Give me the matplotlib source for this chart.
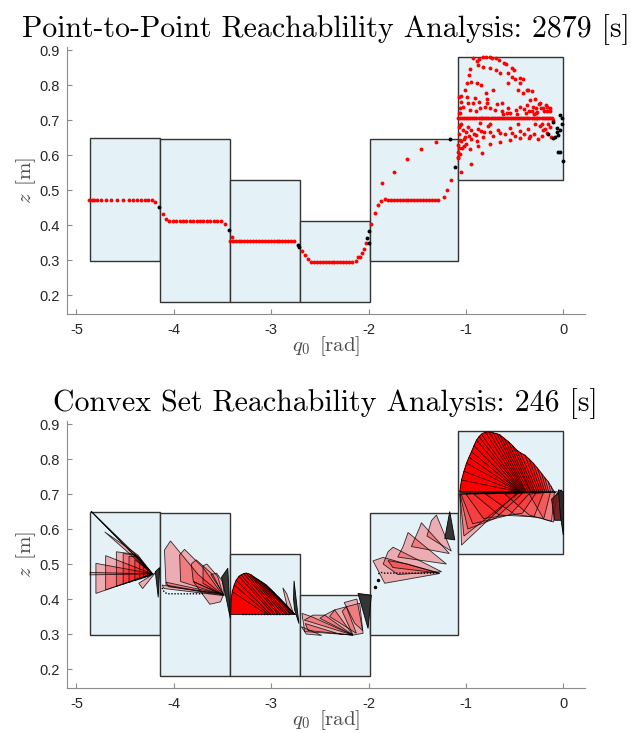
import matplotlib
matplotlib.use("Agg")
import matplotlib.pyplot as plt
from matplotlib.patches import Rectangle, Polygon

plt.rcParams['mathtext.fontset'] = 'cm'
plt.rcParams['axes.unicode_minus'] = False

# ---------------- data ----------------
titles = ["Point-to-Point Reachablility Analysis: 2879 [s]",
          "Convex Set Reachability Analysis: 246 [s]"]
xticks = [-5, -4, -3, -2, -1, 0]
yticks = [0.2, 0.3, 0.4, 0.5, 0.6, 0.7, 0.8, 0.9]

box_left = [-4.86, -4.14, -3.42, -2.70, -1.98, -1.08]
box_right = [-4.14, -3.42, -2.70, -1.98, -1.08, 0.0]
box_bottom = [0.298, 0.180, 0.180, 0.180, 0.298, 0.530]
box_top = [0.648, 0.645, 0.530, 0.412, 0.646, 0.880]

# point-to-point: reachable (red) samples
red_x_1 = [-4.867, -4.844, -4.819, -4.785, -4.751, -4.700, -4.644, -4.579, -4.518, -4.463,
           -4.415, -4.374, -4.336, -4.299, -4.264, -4.227, -4.192, -4.114, -4.079]
red_z_1 = [0.471, 0.471, 0.471, 0.471, 0.471, 0.471, 0.471, 0.471, 0.471, 0.471,
           0.471, 0.471, 0.471, 0.471, 0.471, 0.471, 0.467, 0.431, 0.417]
red_x_2 = [-4.045, -4.010, -3.975, -3.940, -3.905, -3.870, -3.835, -3.800, -3.765, -3.730,
           -3.695, -3.660, -3.625, -3.590, -3.555, -3.520, -3.472, -3.400]
red_z_2 = [0.413, 0.413, 0.413, 0.413, 0.413, 0.413, 0.413, 0.413, 0.413, 0.413,
           0.413, 0.413, 0.413, 0.413, 0.413, 0.413, 0.402, 0.365]
red_x_3 = [-3.425, -3.395, -3.365, -3.335, -3.305, -3.275, -3.245, -3.215, -3.185, -3.155,
           -3.125, -3.095, -3.065, -3.035, -3.005, -2.975, -2.945, -2.915, -2.885, -2.855,
           -2.825, -2.795, -2.765, -2.680, -2.656, -2.622]
red_z_3 = [0.355, 0.355, 0.355, 0.355, 0.355, 0.355, 0.355, 0.355, 0.355, 0.355,
           0.355, 0.355, 0.355, 0.355, 0.355, 0.355, 0.355, 0.355, 0.355, 0.355,
           0.355, 0.355, 0.354, 0.327, 0.314, 0.302]
red_x_4 = [-2.587, -2.560, -2.530, -2.500, -2.470, -2.440, -2.410, -2.380, -2.350, -2.320,
           -2.290, -2.260, -2.230, -2.200, -2.170, -2.132, -2.108, -2.084, -2.063, -2.050,
           -2.029]
red_z_4 = [0.295, 0.295, 0.295, 0.295, 0.295, 0.295, 0.295, 0.295, 0.295, 0.295,
           0.295, 0.295, 0.295, 0.295, 0.295, 0.298, 0.308, 0.309, 0.321, 0.333,
           0.348]
red_x_5 = [-1.978, -1.937, -1.902, -1.868, -1.831, -1.800, -1.770, -1.740, -1.710, -1.680,
           -1.650, -1.620, -1.590, -1.560, -1.530, -1.500, -1.470, -1.440, -1.410, -1.380,
           -1.350, -1.320, -1.290, -1.227, -1.189, -1.152, -1.080, -1.080, -1.080]
red_z_5 = [0.403, 0.435, 0.456, 0.469, 0.474, 0.473, 0.473, 0.473, 0.473, 0.473,
           0.473, 0.473, 0.473, 0.473, 0.473, 0.473, 0.473, 0.473, 0.473, 0.473,
           0.473, 0.473, 0.473, 0.481, 0.500, 0.529, 0.595, 0.609, 0.629]
red_arc_x = [-1.861, -1.738, -1.600, -1.456, -1.309]
red_arc_z = [0.521, 0.551, 0.589, 0.618, 0.637]
red_line_x = [-1.08, -1.06, -1.04, -1.02, -1.00, -0.98, -0.955, -0.935, -0.915, -0.895,
              -0.87, -0.85, -0.83, -0.81, -0.79, -0.77, -0.745, -0.725, -0.705, -0.685,
              -0.665, -0.64, -0.62, -0.60, -0.58, -0.56, -0.535, -0.515, -0.495, -0.475,
              -0.455, -0.43, -0.41, -0.39, -0.37, -0.35, -0.325, -0.305, -0.285, -0.265,
              -0.245, -0.22, -0.20, -0.18, -0.16, -0.14, -0.12]
red_line_z = [0.706, 0.706, 0.706, 0.706, 0.706, 0.706, 0.706, 0.706, 0.706, 0.706,
              0.706, 0.706, 0.706, 0.706, 0.706, 0.706, 0.706, 0.706, 0.706, 0.706,
              0.706, 0.706, 0.706, 0.706, 0.706, 0.706, 0.706, 0.706, 0.706, 0.706,
              0.706, 0.706, 0.706, 0.706, 0.706, 0.706, 0.706, 0.706, 0.706, 0.706,
              0.706, 0.706, 0.706, 0.706, 0.706, 0.706, 0.706]
red_cloud_x = [-0.926, -0.891, -0.864, -0.823, -0.795, -0.754, -0.727, -0.686, -0.658, -0.610,
               -0.590, -0.531, -0.507, -0.446, -0.418, -0.360, -0.326, -0.240, -0.178, -0.137,
               -0.967, -0.953, -0.874, -0.823, -0.754, -0.693, -0.651, -0.566, -0.531, -0.497,
               -0.446, -0.377, -1.011, -0.987, -0.943, -0.891, -0.840, -0.795, -0.720, -0.566,
               -0.463, -0.411, -0.343, -0.291, -1.046, -1.029, -0.977, -0.926, -0.864, -0.857,
               -0.806, -0.754, -0.703, -0.634, -0.634, -0.566, -0.542, -0.487, -0.446, -0.405,
               -0.370, -0.350, -0.315, -0.281, -0.267, -0.233, -0.199, -0.164, -0.137, -1.063,
               -1.029, -0.977, -0.943, -0.898, -0.857, -0.840, -0.771, -0.754, -0.669, -0.651,
               -0.549, -0.531, -0.446, -0.360, -0.343, -0.240, -0.206, -0.171, -0.130, -1.063,
               -1.011, -0.994, -0.943, -0.891, -0.874, -0.823, -0.754, -0.651, -0.549, -0.446,
               -0.350, -1.073, -1.063, -1.022, -0.960, -0.833, -0.943, -1.046, -1.080, -1.066,
               -1.060, -1.070, -1.050, -0.985, -0.905, -0.780, -0.620, -0.475, -0.300, -0.215,
               -1.075, -1.070, -1.055, -1.040, -1.020, -1.000, -0.965, -0.920, -0.880, -0.810,
               -0.720, -0.600, -0.500, -0.400, -0.300, -0.260, -0.220, -0.190, -0.160, -0.140,
               -0.280, -0.250, -0.210, -0.170, -0.320, -0.380, -0.580, -0.680, -0.780, -0.900,
               -0.960, -1.060, -1.050, -0.750, -0.470, -0.290, -0.110]
red_cloud_z = [0.876, 0.870, 0.873, 0.879, 0.880, 0.880, 0.876, 0.876, 0.871, 0.864,
               0.860, 0.848, 0.843, 0.819, 0.816, 0.786, 0.784, 0.748, 0.742, 0.733,
               0.829, 0.845, 0.857, 0.852, 0.848, 0.843, 0.833, 0.833, 0.824, 0.816,
               0.805, 0.786, 0.786, 0.805, 0.810, 0.805, 0.800, 0.778, 0.786, 0.805,
               0.786, 0.776, 0.757, 0.759, 0.752, 0.738, 0.748, 0.748, 0.752, 0.733,
               0.738, 0.733, 0.729, 0.748, 0.727, 0.733, 0.721, 0.729, 0.738, 0.731,
               0.743, 0.727, 0.738, 0.735, 0.724, 0.733, 0.727, 0.738, 0.727, 0.686,
               0.672, 0.679, 0.672, 0.657, 0.691, 0.670, 0.683, 0.667, 0.673, 0.664,
               0.676, 0.664, 0.670, 0.674, 0.654, 0.683, 0.673, 0.664, 0.653, 0.643,
               0.653, 0.632, 0.647, 0.641, 0.626, 0.651, 0.633, 0.638, 0.643, 0.648,
               0.650, 0.619, 0.603, 0.626, 0.616, 0.605, 0.574, 0.553, 0.593, 0.720,
               0.735, 0.765, 0.770, 0.765, 0.762, 0.760, 0.718, 0.718, 0.716, 0.690,
               0.660, 0.680, 0.640, 0.620, 0.645, 0.665, 0.655, 0.660, 0.675, 0.665,
               0.655, 0.660, 0.655, 0.660, 0.660, 0.645, 0.655, 0.675, 0.690, 0.680,
               0.720, 0.745, 0.735, 0.725, 0.725, 0.720, 0.720, 0.745, 0.750, 0.725,
               0.730, 0.720, 0.690, 0.690, 0.690, 0.690, 0.700]
# point-to-point: boundary (black) samples
black_x = [-4.155, -3.438, -2.725, -2.715, -1.998, -2.012, -1.998, -1.114, -1.165,
           -0.034, -0.017, -0.103, -0.069, -0.030, -0.086, -0.051, -0.103, -0.154,
           -0.051, -0.034, -0.007, -0.010, -0.060]
black_z = [0.452, 0.385, 0.343, 0.338, 0.348, 0.364, 0.384, 0.565, 0.646,
           0.714, 0.705, 0.695, 0.676, 0.673, 0.652, 0.657, 0.648, 0.659,
           0.610, 0.610, 0.584, 0.690, 0.665]

# convex set: individual pink polygons (vertex lists in data coordinates)
cs_pink = [
    # box 1
    [(-4.85, 0.651), (-4.42, 0.535), (-4.22, 0.472)],
    [(-4.85, 0.651), (-4.58, 0.575), (-4.22, 0.472)],
    [(-4.71, 0.592), (-4.37, 0.526), (-4.22, 0.472)],
    [(-4.80, 0.502), (-4.80, 0.416), (-4.22, 0.472)],
    [(-4.70, 0.524), (-4.70, 0.426), (-4.22, 0.472)],
    [(-4.59, 0.535), (-4.40, 0.528), (-4.22, 0.472), (-4.59, 0.436)],
    [(-4.52, 0.530), (-4.38, 0.525), (-4.22, 0.472), (-4.52, 0.442)],
    [(-4.46, 0.522), (-4.36, 0.520), (-4.22, 0.472), (-4.46, 0.447)],
    [(-4.40, 0.513), (-4.22, 0.472), (-4.40, 0.452)],
    [(-4.35, 0.505), (-4.22, 0.472), (-4.35, 0.456)],
    [(-4.31, 0.497), (-4.22, 0.472), (-4.31, 0.460)],
    [(-4.27, 0.490), (-4.22, 0.472), (-4.27, 0.463)],
    [(-4.36, 0.445), (-4.19, 0.475), (-4.32, 0.430)],
    [(-4.86, 0.476), (-4.22, 0.472), (-4.86, 0.469)],
    # box 2
    [(-4.096, 0.540), (-4.034, 0.566), (-3.75, 0.470), (-3.50, 0.412), (-4.08, 0.440)],
    [(-3.94, 0.526), (-3.89, 0.542), (-3.70, 0.490), (-3.50, 0.412), (-3.93, 0.450)],
    [(-3.82, 0.500), (-3.77, 0.512), (-3.60, 0.470), (-3.49, 0.410), (-3.80, 0.450)],
    [(-3.70, 0.495), (-3.66, 0.500), (-3.55, 0.465), (-3.49, 0.410), (-3.70, 0.445)],
    [(-3.62, 0.470), (-3.56, 0.474), (-3.50, 0.450), (-3.48, 0.410)],
    [(-3.80, 0.450), (-3.49, 0.412), (-3.52, 0.392), (-3.63, 0.385)],
    [(-4.12, 0.440), (-3.50, 0.410), (-4.10, 0.430)],
    [(-4.08, 0.448), (-3.52, 0.415), (-4.05, 0.435)],
    # box 3 extras
    [(-2.88, 0.432), (-2.84, 0.415), (-2.77, 0.358), (-2.82, 0.360)],
    # box 4
    [(-2.684, 0.359), (-2.588, 0.350), (-2.16, 0.297), (-2.656, 0.307)],
    [(-2.66, 0.340), (-2.571, 0.354), (-2.45, 0.354), (-2.16, 0.297)],
    [(-2.50, 0.345), (-2.45, 0.354), (-2.348, 0.369), (-2.16, 0.297)],
    [(-2.40, 0.350), (-2.348, 0.369), (-2.228, 0.378), (-2.125, 0.302)],
    [(-2.27, 0.365), (-2.228, 0.378), (-2.091, 0.388), (-2.056, 0.302), (-2.16, 0.297)],
    [(-2.25, 0.390), (-2.12, 0.400), (-2.06, 0.310), (-2.14, 0.330)],
    [(-2.69, 0.321), (-2.64, 0.300), (-2.48, 0.296)],
    [(-2.65, 0.330), (-2.30, 0.300), (-2.16, 0.297), (-2.62, 0.310)],
    # box 5
    [(-1.954, 0.509), (-1.851, 0.519), (-1.268, 0.473), (-1.834, 0.445)],
    [(-1.85, 0.500), (-1.80, 0.535), (-1.748, 0.548), (-1.25, 0.478), (-1.70, 0.470)],
    [(-1.70, 0.520), (-1.645, 0.550), (-1.594, 0.590), (-1.20, 0.500)],
    [(-1.56, 0.550), (-1.474, 0.605), (-1.457, 0.618), (-1.17, 0.530)],
    [(-1.40, 0.580), (-1.354, 0.624), (-1.303, 0.640), (-1.15, 0.537)],
    [(-1.80, 0.510), (-1.60, 0.500), (-1.27, 0.474), (-1.75, 0.490)],
    # box 6 lower wedges
    [(-1.063, 0.707), (-1.045, 0.554), (-0.46, 0.707)],
    [(-1.063, 0.700), (-1.02, 0.580), (-0.44, 0.707)],
    [(-1.06, 0.700), (-0.98, 0.600), (-0.70, 0.630), (-0.40, 0.707)],
    [(-1.05, 0.700), (-0.93, 0.615), (-0.55, 0.640), (-0.33, 0.707)],
    [(-1.00, 0.700), (-0.82, 0.630), (-0.42, 0.645), (-0.27, 0.707)],
    [(-0.92, 0.700), (-0.66, 0.640), (-0.30, 0.635), (-0.20, 0.707)],
    [(-0.80, 0.700), (-0.50, 0.642), (-0.20, 0.630), (-0.13, 0.707)],
    [(-0.60, 0.700), (-0.35, 0.640), (-0.12, 0.622), (-0.09, 0.707)],
    [(-0.35, 0.700), (-0.20, 0.628), (-0.10, 0.620), (-0.06, 0.707)],
]
cs_dark = [
    [(-4.19, 0.478), (-4.145, 0.490), (-4.16, 0.405)],
    [(-3.51, 0.462), (-3.445, 0.488), (-3.42, 0.345), (-3.46, 0.400)],
    [(-2.765, 0.452), (-2.715, 0.330), (-2.76, 0.370), (-2.77, 0.400)],
    [(-2.108, 0.416), (-1.971, 0.411), (-2.005, 0.316)],
    [(-1.217, 0.573), (-1.166, 0.650), (-1.114, 0.569)],
    [(-0.05, 0.712), (0.0, 0.707), (0.0, 0.583), (-0.03, 0.640)],
]
cs_maroon = [
    [(-0.12, 0.685), (-0.02, 0.712), (-0.02, 0.625), (-0.09, 0.625)],
]
# box 3 fan (arc of the set boundary, and where each wedge closes on the base line)
fan3_base = (-3.415, 0.357)
fan3_arc_x = [-3.41, -3.40, -3.38, -3.359, -3.33, -3.308, -3.28, -3.256, -3.23, -3.205, -3.18,
              -3.153, -3.13, -3.102, -3.075, -3.05, -3.025, -2.999, -2.97, -2.948, -2.92, -2.896]
fan3_arc_z = [0.400, 0.421, 0.440, 0.454, 0.465, 0.469, 0.473, 0.474, 0.472, 0.469, 0.464,
              0.459, 0.455, 0.450, 0.445, 0.440, 0.433, 0.426, 0.418, 0.411, 0.404, 0.397]
fan3_close_x = [-3.06, -3.05, -3.03, -3.01, -2.98, -2.96, -2.93, -2.91, -2.88, -2.855, -2.83,
                -2.80, -2.78, -2.77, -2.765, -2.76, -2.76, -2.76, -2.76, -2.76, -2.76, -2.76]
fan3_close_z = 0.357
# box 6 fan
fan6_base = (-1.063, 0.707)
fan6_arc_x = [-1.063, -1.045, -1.02, -0.994, -0.968, -0.943, -0.917, -0.891, -0.865, -0.840,
              -0.80, -0.76, -0.72, -0.68, -0.651, -0.61, -0.565, -0.52, -0.48, -0.44,
              -0.394, -0.35, -0.308, -0.265, -0.223, -0.19, -0.154, -0.125, -0.103]
fan6_arc_z = [0.707, 0.740, 0.765, 0.788, 0.805, 0.821, 0.838, 0.854, 0.864, 0.871,
              0.877, 0.877, 0.875, 0.872, 0.869, 0.860, 0.850, 0.838, 0.826, 0.818,
              0.811, 0.800, 0.788, 0.774, 0.759, 0.747, 0.735, 0.722, 0.711]
fan6_close_x = [-0.47, -0.47, -0.47, -0.46, -0.46, -0.45, -0.45, -0.44, -0.43, -0.42,
                -0.41, -0.40, -0.39, -0.38, -0.36, -0.34, -0.33, -0.31, -0.29, -0.27,
                -0.25, -0.23, -0.21, -0.19, -0.17, -0.15, -0.13, -0.11, -0.09]
fan6_close_z = 0.707
# dotted guide traces
dot2_x = [-4.12, -4.11, -4.09, -4.06, -3.70]
dot2_z = [0.432, 0.425, 0.418, 0.415, 0.415]
dot3_x = [-3.30, -2.80]
dot3_z = [0.356, 0.356]
dot5_x = [-1.90, -1.87, -1.84, -1.28]
dot5_z = [0.472, 0.476, 0.474, 0.474]
stray_x = [-1.937, -1.902]
stray_z = [0.435, 0.455]

# ---------------- drawing ----------------
fig = plt.figure(figsize=(6.31, 7.33), dpi=100)
ax1 = fig.add_axes([0.1057, 0.5712, 0.8209, 0.3653])
ax2 = fig.add_axes([0.1057, 0.0610, 0.8209, 0.3653])

AXC = '#8c8c8c'
TXC = '#262626'
PINK = (1.0, 0.0, 0.0, 0.28)
EDGE = (0.0, 0.0, 0.0, 0.8)


def style(ax, title):
    ax.set_xlim(-5.1, 0.22)
    ax.set_ylim(0.145, 0.91)
    for s in ['top', 'right']:
        ax.spines[s].set_visible(False)
    for s in ['left', 'bottom']:
        ax.spines[s].set_color(AXC)
        ax.spines[s].set_linewidth(0.8)
    ax.set_xticks(xticks)
    ax.set_yticks(yticks)
    ax.set_xticklabels([str(t) for t in xticks])
    ax.set_yticklabels([f"{t:.1f}" for t in yticks])
    ax.tick_params(direction='in', length=3.5, width=0.8, color=AXC,
                   labelcolor=TXC, labelsize=10.5)
    ax.tick_params(axis='x', pad=6)
    ax.tick_params(axis='y', pad=5)
    for lab in ax.get_xticklabels() + ax.get_yticklabels():
        lab.set_family('Liberation Sans')
    ax.set_xlabel(r'$q_0\ \,\mathrm{[rad]}$', fontsize=15, color='#4d4d4d', labelpad=-2)
    ax.set_ylabel(r'$z\ \,\mathrm{[m]}$', fontsize=15, color='#4d4d4d', labelpad=1)
    ax.set_title(title, fontsize=21.5, family='cmr10', color='black', pad=7)
    for l, r, b, t in zip(box_left, box_right, box_bottom, box_top):
        ax.add_patch(Rectangle((l, b), r - l, t - b, facecolor='#e4f1f6',
                               edgecolor='#333333', linewidth=1.0, zorder=1))


style(ax1, titles[0])
style(ax2, titles[1])

# top: point samples
ms = 2.8
for xs, zs in [(red_x_1, red_z_1), (red_x_2, red_z_2), (red_x_3, red_z_3),
               (red_x_4, red_z_4), (red_x_5, red_z_5), (red_arc_x, red_arc_z),
               (red_line_x, red_line_z), (red_cloud_x, red_cloud_z)]:
    ax1.plot(xs, zs, linestyle='none', marker='o', markersize=ms,
             markerfacecolor='red', markeredgecolor='none', zorder=3)
ax1.plot(black_x, black_z, linestyle='none', marker='o', markersize=ms,
         markerfacecolor='black', markeredgecolor='none', zorder=4)


# bottom: convex sets
def fill_poly(ax, verts, fc, z=2):
    ax.add_patch(Polygon(verts, closed=True, facecolor=fc, edgecolor='none', zorder=z))


def edge_poly(ax, verts, z=2.5, lw=0.6):
    ax.add_patch(Polygon(verts, closed=True, facecolor='none', edgecolor=EDGE,
                         linewidth=lw, zorder=z))


fans = [(fan6_base, fan6_arc_x, fan6_arc_z, fan6_close_x, fan6_close_z),
        (fan3_base, fan3_arc_x, fan3_arc_z, fan3_close_x, fan3_close_z)]
# fans: cumulative fills, outlines drawn once afterwards
for base, ax_, az_, cx_, cz_ in fans:
    for k in range(1, len(ax_)):
        verts = [base] + list(zip(ax_[:k + 1], az_[:k + 1])) + [(cx_[k], cz_)]
        fill_poly(ax2, verts, PINK)
for verts in cs_pink:
    fill_poly(ax2, verts, PINK)

for base, ax_, az_, cx_, cz_ in fans:
    ax2.plot([base[0]] + ax_, [base[1]] + az_, color=EDGE, linewidth=0.7, zorder=2.5)
    ax2.plot([base[0], cx_[-1]], [base[1], cz_], color=EDGE, linewidth=0.7, zorder=2.5)
    for k in range(1, len(ax_)):
        ax2.plot([ax_[k], cx_[k]], [az_[k], cz_], color=EDGE, linewidth=0.6, zorder=2.5)
for verts in cs_pink:
    edge_poly(ax2, verts)

for verts in cs_maroon:
    ax2.add_patch(Polygon(verts, closed=True, facecolor=(0.42, 0.06, 0.06, 0.9),
                          edgecolor='black', linewidth=0.6, zorder=3))
for verts in cs_dark:
    ax2.add_patch(Polygon(verts, closed=True, facecolor=(0.17, 0.17, 0.17, 0.95),
                          edgecolor='black', linewidth=0.6, zorder=3))

for xs, zs in [(dot2_x, dot2_z), (dot3_x, dot3_z), (dot5_x, dot5_z)]:
    ax2.plot(xs, zs, linestyle=(0, (1, 1.2)), color='black', linewidth=1.0, zorder=4)
ax2.plot(stray_x, stray_z, linestyle='none', marker='o', markersize=1.5,
         color='black', zorder=4)

fig.savefig('out.png', dpi=100)
